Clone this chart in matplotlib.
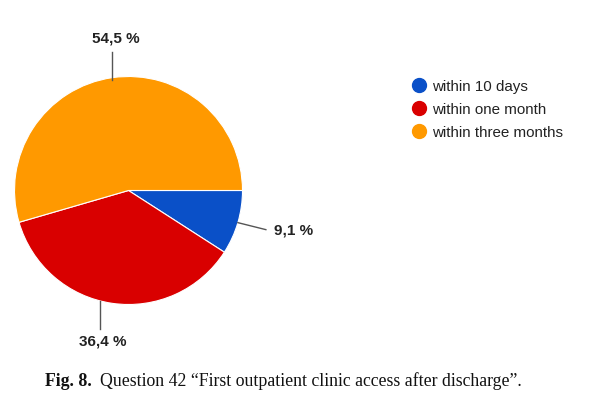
import numpy as np
import matplotlib
matplotlib.use("Agg")
import matplotlib.pyplot as plt
from matplotlib.lines import Line2D

categories = ["within 10 days", "within one month", "within three months"]
values = [9.1, 36.4, 54.5]
value_labels = ["9,1 %", "36,4 %", "54,5 %"]
colors = ["#0a50c8", "#d90000", "#ff9900"]
caption_bold = "Fig. 8."
caption_text = "Question 42 \u201cFirst outpatient clinic access after discharge\u201d."

W, H = 591, 402
fig = plt.figure(figsize=(W / 100, H / 100), dpi=100)
ax = fig.add_axes([0, 0, 1, 1])

cx, cy, r = 128.5, H - 191.5, 114
wedges, _ = ax.pie(values, colors=colors, startangle=0, counterclock=False,
                   center=(cx, cy), radius=r,
                   wedgeprops=dict(edgecolor="white", linewidth=0.8))
ax.set_xlim(0, W)
ax.set_ylim(0, H)
ax.set_aspect("equal")
ax.axis("off")

# leader lines + value labels (Google Charts style)
lab_font = dict(family="Liberation Sans", fontsize=11, fontweight="bold", color="#222222")
for w, lab in zip(wedges, value_labels):
    mid = np.deg2rad((w.theta1 + w.theta2) / 2)
    ex, ey = cx + r * np.cos(mid), cy + r * np.sin(mid)
    if abs(np.sin(mid)) > 0.7:
        sgn = np.sign(np.sin(mid))
        ex = ex - 12 * (sgn < 0)
        ey2 = ey + sgn * 26
        ax.plot([ex, ex], [ey - sgn * 2, ey2], color="#555555", lw=1)
        ax.text(ex + 3, ey2 + sgn * (7 if sgn > 0 else 4), lab, ha="center",
                va="bottom" if sgn > 0 else "top", **lab_font)
    else:
        ax.plot([ex, ex + 28], [ey, ey - 7], color="#555555", lw=1)
        ax.text(ex + 36, ey - 7, lab, ha="left", va="center", **lab_font)

handles = [Line2D([], [], marker="o", linestyle="none", markersize=10,
                  markerfacecolor=c, markeredgecolor=c) for c in colors]
ax.legend(handles, categories, loc="upper left", bbox_to_anchor=(406 / W, 1 - 74 / H),
          frameon=False, prop=dict(family="Liberation Sans", size=10.9),
          handlelength=0.9, handletextpad=0.4, labelspacing=0.6, borderaxespad=0)
for t in ax.get_legend().get_texts():
    t.set_color("#222222")

t1 = ax.text(45, H - 386, caption_bold, family="Liberation Serif", fontsize=12.8,
             fontweight="bold", color="#111111", va="baseline")
ax.annotate(caption_text, xy=(1, 0), xycoords=t1, xytext=(6, 0),
            textcoords="offset points", va="bottom", family="Liberation Serif",
            fontsize=12.8, color="#111111")

fig.savefig("out.png", dpi=100)
